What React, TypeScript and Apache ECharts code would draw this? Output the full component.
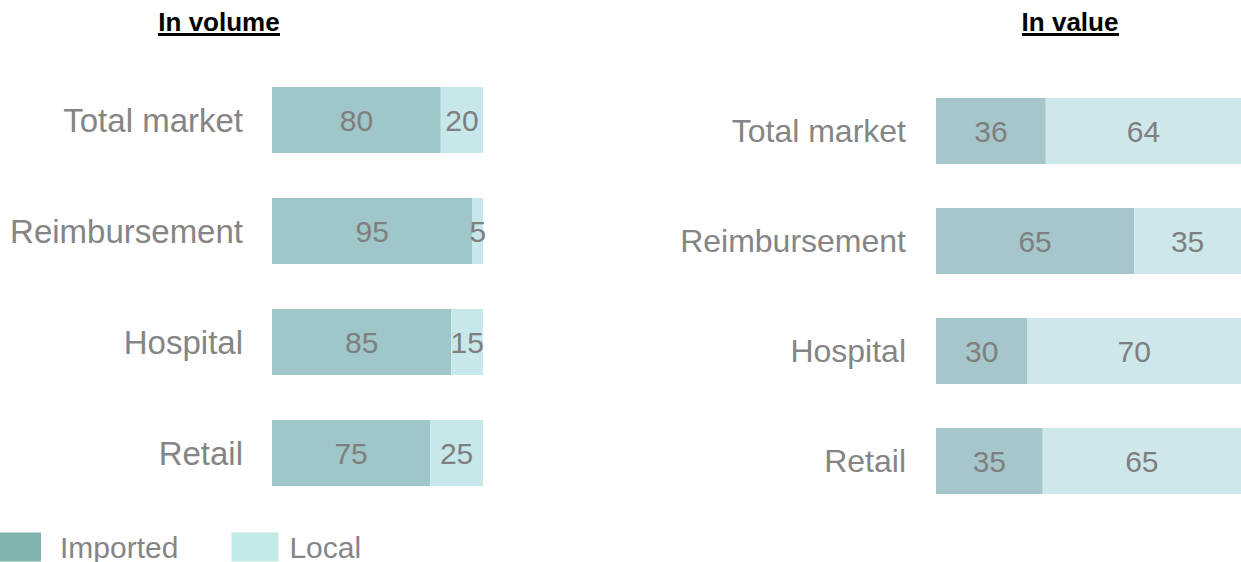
import React, { useEffect, useRef } from "react";
import * as echarts from "echarts";

const categories = ["Total market", "Reimbursement", "Hospital", "Retail"];
const volumeImported = [80, 95, 85, 75];
const volumeLocal = [20, 5, 15, 25];
const valueImported = [36, 65, 30, 35];
const valueLocal = [64, 35, 70, 65];
const legendNames = ["Imported", "Local"];
const titles = ["In volume", "In value"];

const FONT = "'Liberation Sans', Arial, sans-serif";
const labelStyle = {
  show: true,
  position: "inside",
  fontSize: 30,
  color: "#7f7f7f",
  fontFamily: FONT,
};

export default function App() {
  const ref = useRef<HTMLDivElement>(null);
  useEffect(() => {
    if (!ref.current) return;
    const chart = echarts.init(ref.current, undefined, { renderer: "svg" });
    const yAxisBase = {
      type: "category",
      data: categories,
      inverse: true,
      axisLine: { show: false },
      axisTick: { show: false },
      splitLine: { show: false },
      axisLabel: { fontSize: 33, color: "#858585", fontFamily: FONT, padding: [4, 0, 0, 0] },
    };
    const legendText = { fontSize: 30, color: "#858585", fontFamily: FONT };
    chart.setOption({
      animation: false,
      grid: [
        { left: 272, top: 64.5, width: 211, height: 444 },
        { left: 936, top: 76, width: 305, height: 440 },
      ],
      xAxis: [
        { type: "value", gridIndex: 0, min: 0, max: 100, show: false },
        { type: "value", gridIndex: 1, min: 0, max: 100, show: false },
      ],
      yAxis: [
        { ...yAxisBase, gridIndex: 0, axisLabel: { ...yAxisBase.axisLabel, margin: 29 } },
        { ...yAxisBase, gridIndex: 1, axisLabel: { ...yAxisBase.axisLabel, fontSize: 32, margin: 30 } },
      ],
      legend: {
        left: -6,
        top: 532,
        padding: 0,
        itemWidth: 47,
        itemHeight: 29,
        itemGap: 53,
        selectedMode: false,
        textStyle: legendText,
        data: [
          {
            name: legendNames[0], icon: "rect", itemStyle: { color: "#80b4ae" },
            textStyle: { ...legendText, padding: [0, 0, 0, 14] },
          },
          {
            name: legendNames[1], icon: "rect", itemStyle: { color: "#c2e9e6" },
            textStyle: { ...legendText, padding: [0, 0, 0, 6] },
          },
        ],
      },
      graphic: [
        {
          type: "text",
          x: 219,
          y: 22,
          style: {
            text: titles[0], fontSize: 26, fontWeight: "bold", fill: "#000", fontFamily: FONT,
            textAlign: "center", textVerticalAlign: "middle",
          },
        },
        { type: "line", shape: { x1: 158, y1: 34.5, x2: 280, y2: 34.5 }, style: { stroke: "#000", lineWidth: 3 } },
        {
          type: "text",
          x: 1070,
          y: 22,
          style: {
            text: titles[1], fontSize: 26, fontWeight: "bold", fill: "#000", fontFamily: FONT,
            textAlign: "center", textVerticalAlign: "middle",
          },
        },
        { type: "line", shape: { x1: 1022, y1: 34.5, x2: 1119, y2: 34.5 }, style: { stroke: "#000", lineWidth: 3 } },
      ],
      series: [
        {
          name: legendNames[0], type: "bar", stack: "vol", xAxisIndex: 0, yAxisIndex: 0, barWidth: 66,
          data: volumeImported, itemStyle: { color: "#9fc6c8" }, label: labelStyle,
        },
        {
          name: legendNames[1], type: "bar", stack: "vol", xAxisIndex: 0, yAxisIndex: 0, barWidth: 66,
          data: volumeLocal, itemStyle: { color: "#c6e8ea" }, label: labelStyle,
        },
        {
          name: legendNames[0], type: "bar", stack: "val", xAxisIndex: 1, yAxisIndex: 1, barWidth: 66,
          data: valueImported, itemStyle: { color: "#a5c6ca" }, label: labelStyle,
        },
        {
          name: legendNames[1], type: "bar", stack: "val", xAxisIndex: 1, yAxisIndex: 1, barWidth: 66,
          data: valueLocal, itemStyle: { color: "#cee7eb" }, label: labelStyle,
        },
      ],
    });
    return () => chart.dispose();
  }, []);
  return <div ref={ref} style={{ position: "absolute", left: 0, top: 0, width: 1241, height: 562 }} />;
}
